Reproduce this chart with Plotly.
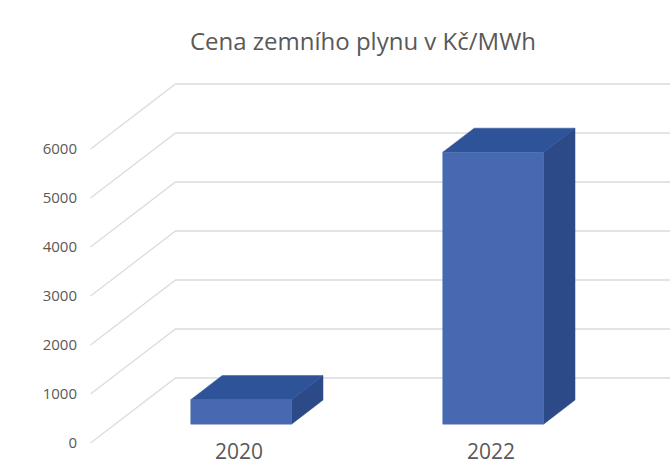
import plotly.graph_objects as go

# ---- data ----
categories = ["2020", "2022"]
prices = [500, 5550]
y_ticks = [0, 1000, 2000, 3000, 4000, 5000, 6000]
title_text = "Cena zemního plynu v Kč/MWh"

# ---- layout / projection constants (pixels) ----
W, H = 670, 464
L_MARGIN = 78
PX_PER_CAT = 252.0          # pixels per category on the front plane
X0_PX = 90.5                # pixel of category -0.5 on the front plane
Y0_PX = 443.0               # pixel of value 0 on the front plane
PX_PER_VAL = 0.049          # pixels per value unit
DEPTH_DX_PX, DEPTH_DY_PX = 85.0, 65.0

DX = DEPTH_DX_PX / PX_PER_CAT        # depth offset in category units
DY = DEPTH_DY_PX / PX_PER_VAL        # depth offset in value units
BAR_HALF = 0.2
F0, F1 = 0.29, 0.66                  # bar depth (fraction of floor depth)

x_range = [(L_MARGIN - X0_PX) / PX_PER_CAT - 0.5, (W - X0_PX) / PX_PER_CAT - 0.5]
y_range = [(Y0_PX - H) / PX_PER_VAL, Y0_PX / PX_PER_VAL]

GRID = "#dcdcdc"
FRONT, TOP, SIDE = "#4669b1", "#2f5398", "#2b4a87"
TXT = "#595959"
FONT = "Open Sans"


def proj(x, v, f):
    return x + f * DX, v + f * DY


fig = go.Figure()

# gridlines: left side wall diagonal + back wall horizontal
gx, gy = [], []
x_left, x_right = -0.5, len(categories) - 0.5
for t in y_ticks:
    a = proj(x_left, t, 0)
    b = proj(x_left, t, 1)
    c = proj(x_right, t, 1)
    gx += [a[0], b[0], c[0], None]
    gy += [a[1], b[1], c[1], None]
fig.add_trace(go.Scatter(x=gx, y=gy, mode="lines",
                         line=dict(color=GRID, width=1.3),
                         hoverinfo="skip", showlegend=False))

# bars
for i, (cat, val) in enumerate(zip(categories, prices)):
    xl, xr = i - BAR_HALF, i + BAR_HALF
    faces = [
        # right side face
        ([proj(xr, 0, F0), proj(xr, 0, F1), proj(xr, val, F1), proj(xr, val, F0)], SIDE),
        # top face
        ([proj(xl, val, F0), proj(xr, val, F0), proj(xr, val, F1), proj(xl, val, F1)], TOP),
        # front face
        ([proj(xl, 0, F0), proj(xr, 0, F0), proj(xr, val, F0), proj(xl, val, F0)], FRONT),
    ]
    for pts, col in faces:
        xs = [p[0] for p in pts] + [pts[0][0]]
        ys = [p[1] for p in pts] + [pts[0][1]]
        fig.add_trace(go.Scatter(x=xs, y=ys, mode="lines", fill="toself",
                                 fillcolor=col, line=dict(color=col, width=0.5),
                                 hoverinfo="skip", showlegend=False))

# category labels (under the bars' front faces)
label_y = (Y0_PX - 451) / PX_PER_VAL
for i, cat in enumerate(categories):
    fig.add_annotation(x=i + F0 * DX - 0.01, y=label_y, text=cat,
                       showarrow=False, xanchor="center", yanchor="middle",
                       font=dict(family=FONT, size=21, color=TXT))

fig.update_layout(
    width=W, height=H,
    margin=dict(l=L_MARGIN, r=0, t=0, b=0),
    paper_bgcolor="white", plot_bgcolor="white",
    title=dict(text=title_text, x=363 / W, xanchor="center",
               y=1 - 42 / H, yanchor="middle", xref="container", yref="container",
               font=dict(family=FONT, size=24, color=TXT)),
    xaxis=dict(range=x_range, visible=False, fixedrange=True),
    yaxis=dict(range=y_range, tickvals=y_ticks, ticktext=[str(t) for t in y_ticks],
               showgrid=False, zeroline=False, showline=False, ticks="",
               tickfont=dict(family=FONT, size=15, color=TXT), fixedrange=True),
    showlegend=False,
)

fig.write_html("out.html", config={"displayModeBar": False},
               post_script="document.body.style.margin='0px';document.body.style.overflow='hidden';")
